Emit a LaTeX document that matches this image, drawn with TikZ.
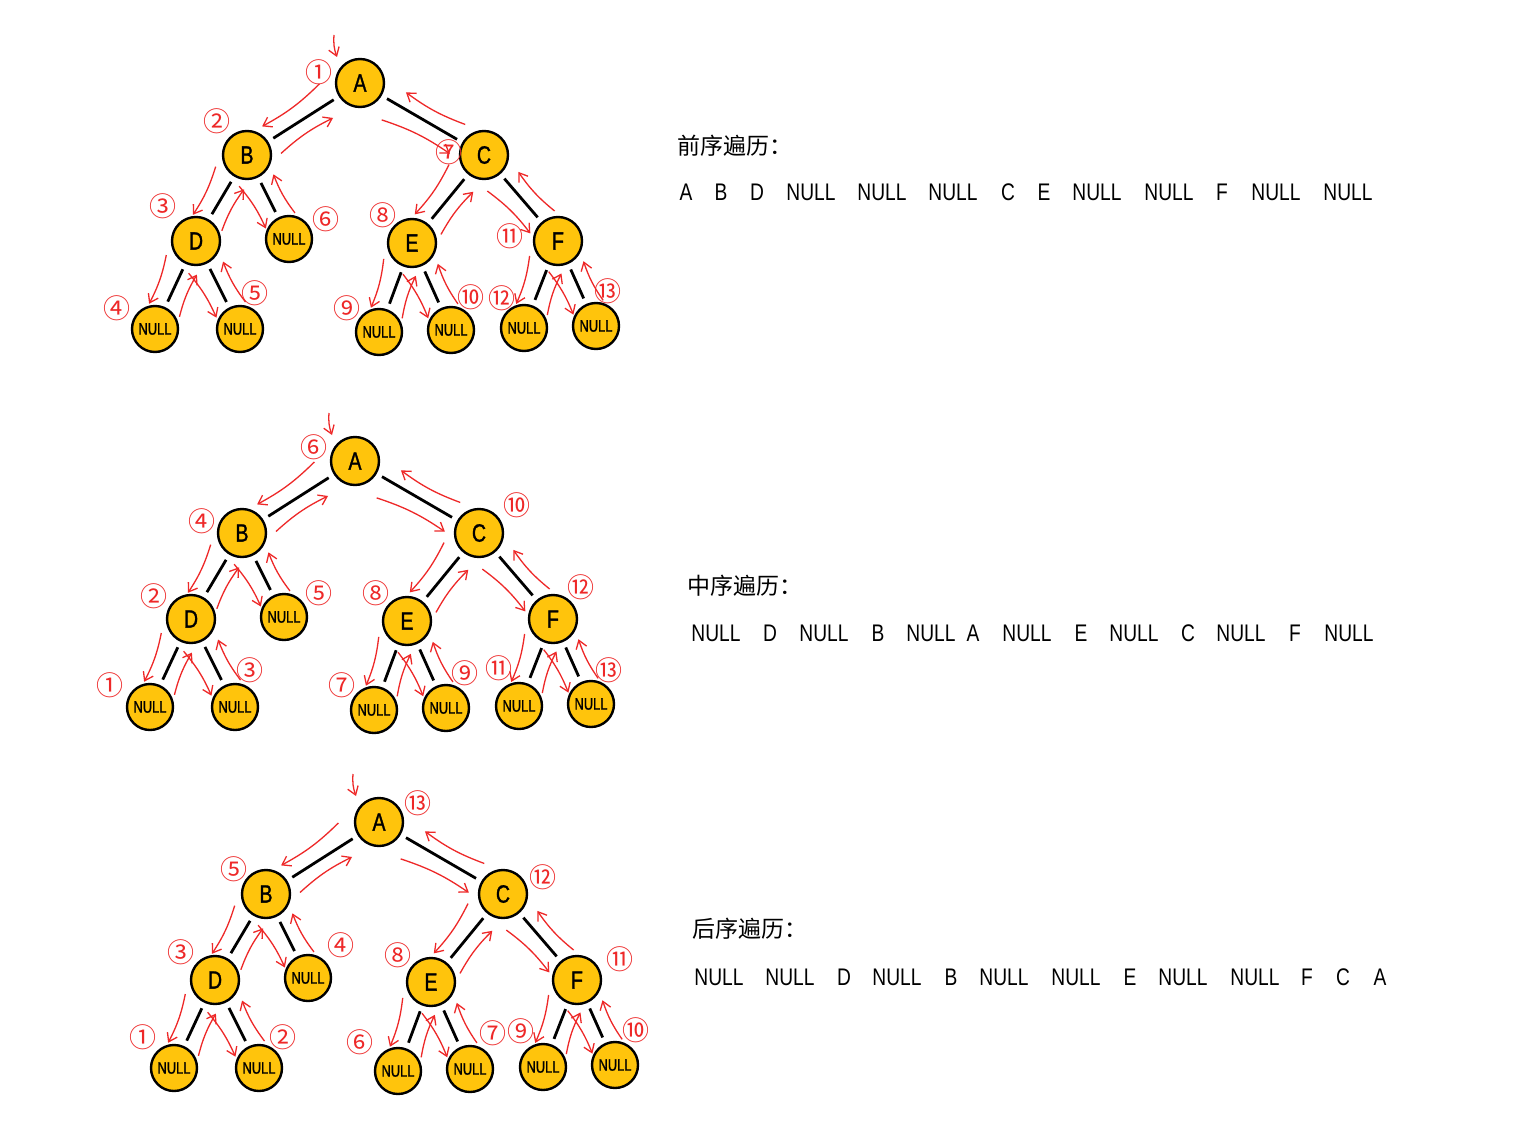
\documentclass[tikz,border=0pt]{standalone}
\usepackage{fontspec}
\setmainfont{Liberation Sans}
\newfontfamily\cjkf{Noto Sans CJK SC}
\newfontfamily\seqf[FakeStretch=0.8]{Liberation Sans}
\newfontfamily\nodef[FakeStretch=0.78,FakeBold=1.2]{Liberation Sans}
\usetikzlibrary{calc,arrows.meta}
\definecolor{nodeyellow}{RGB}{255,196,12}
\definecolor{penred}{RGB}{238,40,40}
\tikzset{
  tnode/.style={circle,draw=black,line width=2.4pt,fill=nodeyellow,minimum size=48pt,inner sep=0pt,font=\nodef\fontsize{25}{25}\selectfont},
  nullnode/.style={tnode,minimum size=46pt,font=\nodef\fontsize{16.5}{16.5}\selectfont},
  edgeline/.style={line width=2.8pt,shorten <=6pt,shorten >=6pt},
  redarr/.style={draw=penred,line width=1.3pt,-{Straight Barb[length=8pt,width=11pt]}},
  num/.style={text=penred,font=\cjkf\fontsize{27}{27}\selectfont,inner sep=0pt},
  seqtok/.style={font=\seqf\fontsize{24}{24}\selectfont,inner sep=0pt},
  ttl/.style={font=\cjkf\fontsize{23}{23}\selectfont,anchor=west,inner sep=0pt},
}
\newcommand\walk[2]{%
  \draw[redarr] ($(#1)!0.26!(#2)!21pt!-90:(#2)$) to[bend left=8] ($(#1)!0.79!(#2)!16pt!-90:(#2)$);
  \draw[redarr] ($(#2)!0.22!(#1)!17pt!-90:(#1)$) to[bend left=8] ($(#2)!0.69!(#1)!15pt!-90:(#1)$);
}
\newcommand\mktree[3]{%
  \begin{scope}[shift={#2}]
    \node[tnode] (A#1) at (360,83) {A};
    \node[tnode] (B#1) at (247,155) {B};
    \node[tnode] (C#1) at (484,155) {C};
    \node[tnode] (D#1) at (196,241) {D};
    \node[nullnode] (NB#1) at (289,239) {NULL};
    \node[tnode] (E#1) at (412,243) {E};
    \node[tnode] (F#1) at (558,241) {F};
    \node[nullnode] (N1#1) at (155,329) {NULL};
    \node[nullnode] (N2#1) at (240,329) {NULL};
    \node[nullnode] (N3#1) at (379,332) {NULL};
    \node[nullnode] (N4#1) at (451,330) {NULL};
    \node[nullnode] (N5#1) at (524,328) {NULL};
    \node[nullnode] (N6#1) at (596,326) {NULL};
    \foreach \a/\b in {A/B,A/C,B/D,B/NB,D/N1,D/N2,C/E,C/F,E/N3,E/N4,F/N5,F/N6}{%
      \draw[edgeline] (\a#1) -- (\b#1);
      \walk{\a#1}{\b#1}}
    \coordinate (in#1) at (334,35);
    \coordinate (ie#1) at (337,57);
    \draw[redarr] (in#1) to[bend right=12] (ie#1);
    \foreach \t/\x/\y [count=\i] in {#3} \node[num] (num#1-\i) at (\x,\y) {\t};
  \end{scope}
}
\begin{document}
\begin{tikzpicture}[x=1pt,y=-1pt]
\fill[white] (0,0) rectangle (1525,1132);
\useasboundingbox (0,0) rectangle (1525,1132);

\mktree{a}{(0,0)}{①/319/72,②/217/121,③/163/206,④/117/308,⑤/255/293,⑥/326/219,⑦/449/152,⑧/383/215,⑨/347/308,⑩/471/297,⑪/510/236,⑫/502/298,⑬/608/291}
\mktree{b}{(-5,378)}{⑥/319/69,④/207/143,②/159/218,①/115/307,③/255/292,⑤/324/215,⑩/522/127,⑧/381/215,⑦/347/307,⑨/470/295,⑫/586/209,⑪/504/290,⑬/614/292}
\mktree{c}{(19,739)}{⑬/399/64,⑤/215/130,③/162/213,①/124/298,②/264/298,④/322/206,⑫/524/138,⑧/379/216,⑥/341/303,⑦/474/294,⑪/601/220,⑨/502/292,⑩/617/291}

\node[ttl] (t1) at (677,146) {前序遍历：};
\node[ttl] (t2) at (687,586) {中序遍历：};
\node[ttl] (t3) at (692,929) {后序遍历：};

\foreach \w/\x [count=\i] in {A/686,B/721,D/757,NULL/811,NULL/882,NULL/953,C/1008,E/1044,NULL/1097,NULL/1169,F/1222,NULL/1276,NULL/1348}
  \node[seqtok] (pa\i) at (\x,192) {\w};
\foreach \w/\x [count=\i] in {NULL/716,D/770,NULL/824,B/878,NULL/931,A/973,NULL/1027,E/1081,NULL/1134,C/1188,NULL/1241,F/1295,NULL/1349}
  \node[seqtok] (pb\i) at (\x,633) {\w};
\foreach \w/\x [count=\i] in {NULL/719,NULL/790,D/844,NULL/897,B/951,NULL/1004,NULL/1076,E/1130,NULL/1183,NULL/1255,F/1307,C/1343,A/1380}
  \node[seqtok] (pc\i) at (\x,977) {\w};
\end{tikzpicture}
\end{document}
